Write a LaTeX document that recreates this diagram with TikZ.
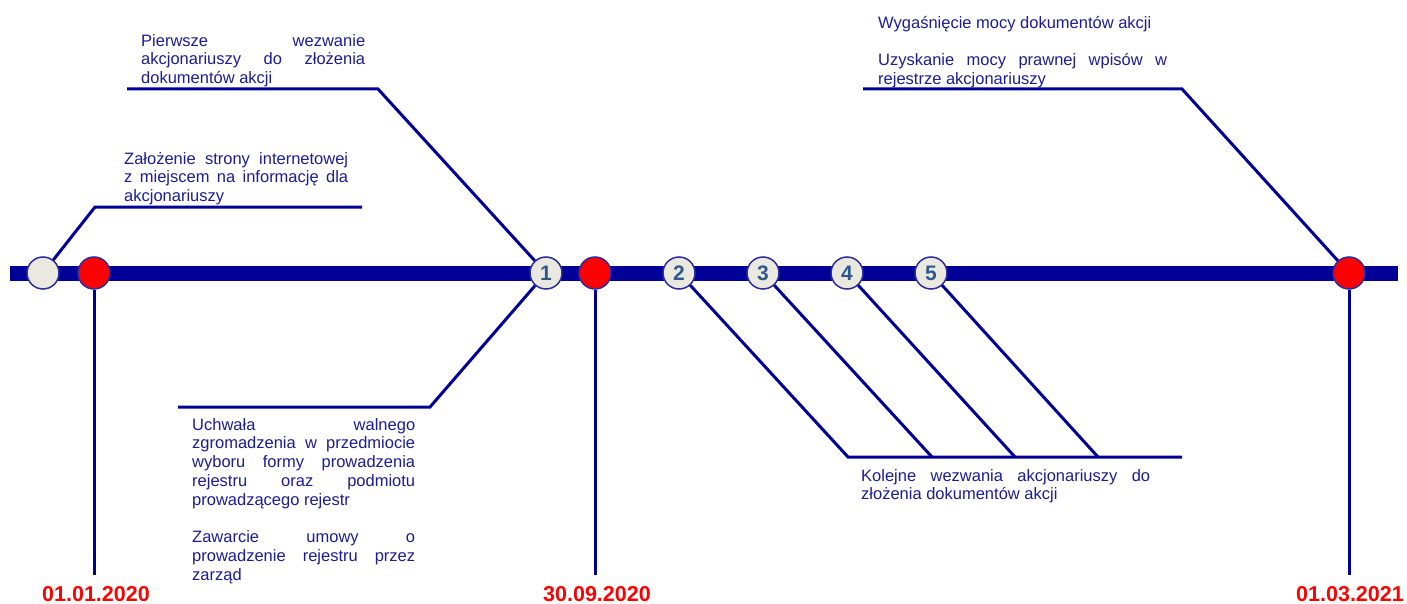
\documentclass[tikz,border=0pt]{standalone}
\usepackage{fontspec}
\setmainfont{Liberation Sans}
\definecolor{navy}{RGB}{0,0,153}
\definecolor{txtblue}{RGB}{28,28,150}
\definecolor{numblue}{RGB}{45,90,140}
\definecolor{circgray}{RGB}{234,232,223}
\definecolor{circedge}{RGB}{45,45,160}
\newcommand{\jl}[2]{\makebox[#1][s]{#2}}
\tikzset{
  bar/.style={line width=15pt, navy},
  conn/.style={line width=3pt, navy, line join=miter},
  evt/.style={circle, minimum size=32pt, inner sep=0pt, fill=circgray, draw=circedge, line width=1.5pt,
    font=\fontsize{21}{21}\selectfont\bfseries, text=numblue},
  milestone/.style={circle, minimum size=32pt, inner sep=0pt, fill=red, draw=circedge, line width=1.5pt},
  desc/.style={anchor=north west, inner sep=0pt, align=left, text=txtblue,
    font=\fontsize{16.5}{18.8}\selectfont},
  datelbl/.style={anchor=base, inner sep=0pt, text=red, font=\fontsize{21.5}{22}\selectfont\bfseries}
}
\begin{document}
\begin{tikzpicture}[x=1pt,y=-1pt]
\useasboundingbox (0,0) rectangle (1407,604);
% main bar
\coordinate (barL) at (10,273);
\coordinate (barR) at (1398,273);
\draw[bar] (barL) -- (barR);
% circles
\node[evt] (c0) at (43,273) {};
\node[milestone] (m1) at (94,273) {};
\node[evt] (c1) at (546,273) {1};
\node[milestone] (m2) at (595,273) {};
\node[evt] (c2) at (679,273) {2};
\node[evt] (c3) at (763,273) {3};
\node[evt] (c4) at (847,273) {4};
\node[evt] (c5) at (931,273) {5};
\node[milestone] (m3) at (1349,273) {};
% coordinates for connectors
\coordinate (k0a) at (95,207);  \coordinate (k0b) at (362,207);
\coordinate (k1a) at (378,89);  \coordinate (k1b) at (127,89);
\coordinate (k2a) at (430,407); \coordinate (k2b) at (178,407);
\coordinate (q2) at (848,457); \coordinate (q3) at (932,457);
\coordinate (q4) at (1015,457); \coordinate (q5) at (1098,457);
\coordinate (qe) at (1182,457);
\coordinate (k3a) at (1182,89); \coordinate (k3b) at (863,89);
\coordinate (d1) at (94,575); \coordinate (d2) at (595,575); \coordinate (d3) at (1349,575);
% connectors
\draw[conn] (c0) -- (k0a) -- (k0b);
\draw[conn] (c1) -- (k1a) -- (k1b);
\draw[conn] (c1) -- (k2a) -- (k2b);
\draw[conn] (c2) -- (q2) -- (qe);
\draw[conn] (c3) -- (q3);
\draw[conn] (c4) -- (q4);
\draw[conn] (c5) -- (q5);
\draw[conn] (m3) -- (k3a) -- (k3b);
\draw[conn] (m1) -- (d1);
\draw[conn] (m2) -- (d2);
\draw[conn] (m3) -- (d3);
% texts
\node[desc] (t1) at (141,34) {\jl{224pt}{Pierwsze wezwanie}\\\jl{224pt}{akcjonariuszy do złożenia}\\dokumentów akcji};
\node[desc] (t0) at (124,152) {\jl{224pt}{Założenie strony internetowej}\\\jl{224pt}{z miejscem na informację dla}\\akcjonariuszy};
\node[desc] (t2) at (192,418) {\jl{223pt}{Uchwała walnego}\\\jl{223pt}{zgromadzenia w przedmiocie}\\\jl{223pt}{wyboru formy prowadzenia}\\\jl{223pt}{rejestru oraz podmiotu}\\prowadzącego rejestr\\[18.8pt]\jl{223pt}{Zawarcie umowy o}\\\jl{223pt}{prowadzenie rejestru przez}\\zarząd};
\node[desc] (t3) at (861,469) {\jl{289pt}{Kolejne wezwania akcjonariuszy do}\\złożenia dokumentów akcji};
\node[desc] (t4) at (878,16) {Wygaśnięcie mocy dokumentów akcji\\[18.8pt]\jl{289pt}{Uzyskanie mocy prawnej wpisów w}\\rejestrze akcjonariuszy};
% dates
\node[datelbl] (dt1) at (96,601) {01.01.2020};
\node[datelbl] (dt2) at (597,601) {30.09.2020};
\node[datelbl] (dt3) at (1350,601) {01.03.2021};
\end{tikzpicture}
\end{document}
